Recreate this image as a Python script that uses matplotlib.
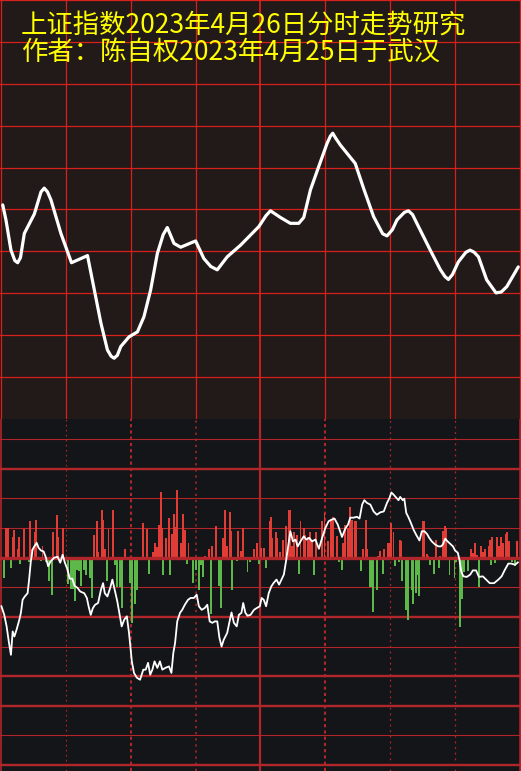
import matplotlib
matplotlib.use('Agg')
import matplotlib.pyplot as plt

# ---- data ----
title_lines = ['上证指数2023年4月26日分时走势研究', '作者：陈自权2023年4月25日于武汉']

# top panel: smoothed trend (minute, level)
trend_minutes = [0.8, 2.3, 4.6, 6.4, 7.7, 9.0, 10.8, 15.4, 18.5, 20.0, 21.5, 23.1, 27.7, 32.6,
                 40.0, 46.2, 49.2, 50.9, 52.3, 53.8, 55.4, 59.2, 63.1, 66.1, 69.2, 72.3, 75.0,
                 76.9, 80.0, 83.1, 90.0, 93.8, 97.0, 100.0, 104.6, 110.8, 119.2, 122.5, 124.6,
                 129.2, 133.8, 137.7, 140.0, 143.1, 146.9, 150.8, 152.3, 153.4, 154.8, 156.9,
                 163.8, 167.7, 172.3, 176.5, 178.5, 181.0, 183.1, 186.5, 188.4, 190.3, 192.3,
                 198.5, 203.1, 205.3, 206.9, 208.8, 211.5, 215.0, 216.9, 218.8, 220.8, 224.6,
                 228.9, 231.3, 233.9, 239.2]
trend_values = [5.11, 4.75, 4.03, 3.78, 3.73, 3.85, 4.43, 4.89, 5.42, 5.51, 5.42, 5.23, 4.43,
                3.73, 3.90, 2.29, 1.65, 1.50, 1.45, 1.52, 1.73, 1.96, 2.08, 2.44, 3.08, 3.95,
                4.40, 4.57, 4.19, 4.10, 4.25, 3.83, 3.64, 3.56, 3.87, 4.15, 4.59, 4.85, 4.97,
                4.81, 4.67, 4.67, 4.81, 5.47, 6.02, 6.58, 6.75, 6.82, 6.70, 6.54,
                6.10, 5.50, 4.83, 4.42, 4.37, 4.52, 4.75, 4.93, 4.97, 4.88, 4.67,
                4.03, 3.57, 3.40, 3.33, 3.45, 3.75, 3.98, 4.03, 3.98, 3.87, 3.32,
                3.01, 3.03, 3.16, 3.63]

# bottom panel: minute price line
price_minutes = [0.2, 1.5, 2.6, 3.7, 4.6, 5.4, 6.2, 7.2, 8.5, 9.2, 10.0, 11.0, 12.3, 13.0, 13.8,
                 14.6, 15.4, 16.5, 17.4, 18.5, 19.7, 20.8, 21.8, 23.0, 24.6, 26.2, 27.4, 28.5,
                 29.5, 30.8, 31.8, 33.0, 34.0, 35.4, 36.6, 38.5, 39.7, 40.5, 41.5, 42.5, 43.5,
                 44.9, 46.2, 47.2, 48.0, 49.2, 50.5, 51.5, 52.6, 53.8, 55.0, 55.8, 57.0, 58.2,
                 59.2, 60.5, 61.5, 62.8, 64.3, 65.8, 66.9, 68.0, 69.0, 70.0, 71.0, 72.3, 73.5,
                 74.6, 76.0, 77.7, 78.8, 79.7, 80.5, 81.5, 82.8, 83.8, 85.0, 86.5, 87.7, 89.2,
                 90.5, 91.5, 92.8, 94.2, 95.4, 96.5, 97.7, 98.9, 100.0, 101.0, 102.0, 103.0,
                 104.6, 105.7, 106.6, 107.7, 109.0, 110.0, 111.2, 112.0, 113.0, 114.0, 115.4,
                 117.0, 118.5, 119.7, 120.5, 121.5, 122.6, 123.8, 125.0, 126.0, 127.4, 128.6,
                 129.7, 130.8, 131.8, 132.8, 133.8, 135.0, 136.2, 137.2, 138.5, 140.0, 141.2,
                 142.5, 143.8, 145.4, 147.0, 148.5, 150.0, 151.5, 152.8, 154.2, 155.7, 157.7,
                 159.2, 160.5, 161.5, 163.0, 164.6, 165.8, 167.0, 168.0, 169.2, 170.8, 172.3,
                 173.8, 175.4, 177.0, 178.5, 179.7, 180.5, 181.5, 182.8, 183.8, 184.6, 185.8,
                 186.5, 187.4, 188.5, 189.5, 190.8, 192.0, 193.5, 194.6, 195.8, 197.0, 198.0,
                 199.2, 200.8, 202.3, 203.4, 204.3, 205.4, 206.5, 207.7, 209.0, 210.0, 211.2,
                 212.0, 212.8, 213.8, 215.4, 217.0, 218.2, 219.7, 221.0, 222.8, 224.3, 226.0,
                 228.0, 230.0, 231.5, 233.0, 234.6, 236.0, 237.7, 239.0]
price_values = [-1.64, -1.93, -2.32, -2.88, -3.28, -2.49, -2.66, -2.43, -2.09, -1.86, -1.42, -1.31,
                -1.20, -0.74, -0.12, 0.27, 0.38, 0.50, 0.33, 0.24, 0.21, 0.00, -0.29, -0.12, 0.00,
                0.03, -0.17, 0.10, -0.16, -0.41, -0.71, -0.71, -0.95, -1.02, -1.14, -1.20, -1.36,
                -1.64, -1.93, -1.70, -1.59, -1.53, -1.09, -0.86, -1.20, -1.31, -1.02, -0.74, -1.09,
                -1.48, -1.98, -2.32, -2.09, -1.98, -2.54, -3.50, -3.89, -4.05, -4.12, -3.78, -3.78,
                -3.55, -3.95, -3.78, -3.50, -3.72, -3.50, -3.78, -3.72, -3.67, -3.89, -3.21, -2.88,
                -2.15, -1.86, -1.76, -1.59, -1.42, -1.36, -1.36, -1.25, -1.64, -1.76, -1.70, -1.59,
                -2.15, -2.20, -2.15, -2.15, -2.70, -3.00, -2.77, -2.54, -2.15, -1.85, -2.20, -2.32,
                -1.93, -1.86, -1.53, -1.86, -1.96, -1.93, -1.76, -1.69, -1.64, -1.36, -1.42, -1.64,
                -1.20, -0.97, -0.86, -0.74, -0.91, -0.74, -0.57, -0.12, 0.38, 0.89, 0.55, 0.61,
                0.38, 0.55, 0.72, 0.61, 0.67, 0.55, 0.61, 0.30, 0.67, 1.00, 1.23, 1.28, 1.32, 1.12,
                0.70, 0.98, 1.12, 1.35, 1.35, 1.38, 1.32, 1.79, 1.94, 1.85, 1.79, 1.56, 1.45, 1.53,
                1.56, 1.85, 2.02, 2.20, 2.13, 2.02, 1.94, 2.05, 1.94, 1.99, 1.51, 1.35, 1.18, 0.94,
                0.77, 0.58, 0.89, 0.89, 0.80, 0.67, 0.55, 0.44, 0.38, 0.38, 0.44, 0.64, 0.55, 0.47,
                0.38, 0.24, 0.17, -0.07, -0.46, -0.63, -0.65, -0.57, -0.43, -0.43, -0.65, -0.63,
                -0.74, -0.86, -0.86, -0.74, -0.63, -0.41, -0.20, -0.20, -0.24, -0.16]

# bottom panel: up / down volume bars (minute, value)
up_minutes = [2.5, 3.1, 5.5, 6.2, 7.7, 8.3, 10.5, 13.4, 14.2, 15.6, 16.2, 19.2, 24.0, 25.8, 26.5,
              28.5, 42.8, 44.2, 45.0, 46.5, 47.2, 48.0, 49.7, 51.6, 57.2,
              65.5, 67.3, 70.5, 71.0, 72.3, 72.9, 73.8, 74.6, 76.1, 77.5, 79.2, 80.1, 80.8, 81.5,
              83.3, 84.0, 85.3, 86.7, 94.2, 96.0, 97.7, 99.6, 102.8, 103.8, 104.6, 106.0, 106.5,
              109.6, 111.0, 111.7, 117.0, 118.5,
              120.4, 121.8, 124.2, 124.8, 125.5, 127.0, 127.8, 129.2, 130.3, 131.8, 133.0, 133.8,
              134.5, 135.5, 137.0, 138.5, 140.0, 140.6, 142.0, 143.0, 144.0, 145.7, 148.5, 149.6,
              151.0, 152.8, 153.6, 155.5, 158.0, 159.2, 160.5, 161.5, 162.3, 163.5, 164.2, 167.3,
              168.7, 169.3, 174.5, 175.2, 177.2, 178.8, 179.5,
              180.2, 181.5, 184.6, 185.1, 195.0, 195.8, 197.0, 197.6, 201.0, 203.0, 204.6, 205.3,
              206.0, 217.5, 218.3, 219.0, 220.3, 222.0, 222.8, 224.0, 225.6, 226.2, 226.9, 229.2,
              230.5, 231.2, 232.3, 233.5, 234.2, 235.0, 238.6]
up_values = [1.0, 1.0, 0.7, 0.93, 0.3, 0.7, 0.97, 1.25, 0.3, 0.88, 1.27, 0.4, 0.88, 1.44, 0.7,
             1.0, 0.77, 1.25, 0.2, 1.6, 1.27, 0.3, 0.98, 1.6, 0.3,
             1.18, 0.97, 0.2, 0.5, 0.35, 1.1, 2.2, 1.0, 0.65, 1.33, 0.8, 1.47, 1.05, 2.3,
             0.48, 1.47, 0.95, 0.48, 0.05, 0.3, 0.4, 1.07, 0.65, 1.6, 0.4, 1.55, 0.9,
             0.9, 0.22, 1.0, 0.3, 0.5,
             0.33, 0.33, 1.24, 1.37, 0.65, 0.88, 0.65, 0.2, 0.6, 1.08, 1.6, 1.6,
             0.4, 0.88, 0.77, 1.24, 1.0, 0.77, 0.7, 0.85, 0.6, 0.85, 1.25, 1.5,
             0.55, 1.27, 1.36, 0.73, 0.48, 1.1, 1.0, 1.72, 1.27, 1.24, 1.24, 0.28,
             1.27, 0.28, 0.05, 0.22, 0.3, 0.5, 0.5,
             1.16, 0.88, 0.6, 0.56, 1.24, 1.24, 0.12, 0.05, 0.6, 0.05, 0.9, 1.07,
             1.0, 0.3, 0.15, 0.5, 0.1, 0.4, 0.2, 0.3, 0.4, 0.6, 0.7, 0.7,
             0.4, 0.7, 0.48, 0.8, 0.87, 0.55, 0.55]
down_minutes = [1.2, 4.6, 9.0, 12.8, 18.3, 20.8, 22.0, 23.5, 27.2, 31.2, 32.3, 33.5, 34.3, 35.0,
                36.2, 37.0, 38.5, 39.4, 41.2, 42.0, 49.0, 52.7, 53.8, 55.0, 55.8, 59.5,
                60.4, 61.9, 63.0, 68.5, 75.0, 78.3, 85.8, 89.0, 90.3, 91.5, 92.5, 93.2, 96.9,
                101.0, 101.9, 107.0, 109.0, 114.0, 115.0, 119.5,
                122.6, 137.6, 144.7, 156.3, 157.7, 166.5, 170.7, 171.4, 172.0, 173.8, 176.5,
                182.1, 184.0, 185.3, 187.2, 188.0, 190.0, 190.6, 191.8, 192.5, 193.2, 198.3,
                200.1, 202.6, 207.4, 209.7, 210.3, 212.4, 213.1, 214.3, 215.8, 220.9, 226.6,
                228.5, 236.5, 237.5]
down_values = [-0.7, -0.35, -0.2, -0.15, -0.1, -0.15, -0.78, -1.25, -0.15, -0.9, -1.05, -1.05,
               -1.45, -0.4, -0.45, -0.95, -0.4, -0.6, -0.7, -1.35, -0.8, -0.25, -1.0, -1.0, -1.7,
               -0.85,
               -2.2, -1.55, -1.1, -0.55, -0.6, -0.6, -0.2, -0.85, -0.4, -1.1, -0.25, -0.65, -1.9,
               -0.97, -1.7, -1.1, -0.1, -0.5, -0.15, -0.2,
               -0.35, -0.55, -0.6, -0.15, -0.4, -0.45, -1.0, -1.0, -1.85, -1.1, -0.55,
               -0.27, -0.15, -0.8, -1.77, -2.1, -1.1, -1.55, -1.2, -0.6, -1.3, -0.25,
               -0.55, -0.35, -0.6, -0.7, -0.15, -2.33, -1.4, -0.47, -0.45, -1.0, -0.25,
               -0.17, -0.13, -0.28]

# ---- figure ----
fig = plt.figure(figsize=(5.21, 7.71), dpi=100)
fig.patch.set_facecolor('#141518')

ax_top = fig.add_axes([0, 352 / 771, 1, 419 / 771])
ax_bot = fig.add_axes([0, 0, 1, 352 / 771])

for ax in (ax_top, ax_bot):
    ax.set_xlim(-0.46, 240.46)
    ax.set_xticks([])
    ax.set_yticks([])
    for s in ax.spines.values():
        s.set_visible(False)

# top panel
ax_top.set_facecolor('#211a18')
ax_top.set_ylim(0, 10)
top_red = '#d8201c'
for lvl in range(1, 11):
    ax_top.axhline(lvl, color=top_red, lw=0.9, zorder=1, clip_on=False)
for m in range(0, 241, 30):
    ax_top.axvline(m, color=top_red, lw=1.3 if m == 120 else 0.9, zorder=1, clip_on=False)
ax_top.plot(trend_minutes, trend_values, color='white', lw=2.3, zorder=3,
            solid_joinstyle='round', solid_capstyle='round')

# bottom panel
ax_bot.set_facecolor('#141518')
ax_bot.set_ylim(-7.2, 4.68)
bot_red = '#b0262a'
thick_levels = [3, -2, -4, -5, -7]
for lvl in range(-7, 5):
    if lvl == 0:
        continue
    ax_bot.axhline(lvl, color=bot_red, lw=1.7 if lvl in thick_levels else 0.8, zorder=1)

dotted = {30: (0.8, (1.5, 3)), 60: (1.5, (1.5, 1.5)), 90: (1.1, (1.5, 2.5)),
          150: (1.5, (1.5, 1.5)), 180: (0.9, (1.5, 3)), 210: (0.9, (1.5, 3))}
for m, (w, pat) in dotted.items():
    ax_bot.axvline(m, color=bot_red, lw=w, linestyle=(0, pat), zorder=1)
ax_bot.axvline(120, color=bot_red, lw=1.6, zorder=1)
ax_bot.axvline(0, color=bot_red, lw=1.2, zorder=1)
ax_bot.axvline(240, color=bot_red, lw=1.8, zorder=1)

ax_bot.bar(up_minutes, up_values, width=0.9, color='#e23c36', zorder=2, linewidth=0)
ax_bot.bar(down_minutes, down_values, width=0.9, color='#5cb848', zorder=2, linewidth=0)
ax_bot.axhline(0, color=bot_red, lw=2.4, zorder=2.5)
ax_bot.plot(price_minutes, price_values, color='white', lw=1.3, zorder=3)

# title text
for i, line in enumerate(title_lines):
    fig.text(21 / 521, 1 - (25 + 27 * i) / 771, line, color='#ffff00', fontsize=19,
             va='center', ha='left', family=['Noto Sans CJK SC', 'DejaVu Sans'])

fig.savefig('out.png', dpi=100, facecolor=fig.get_facecolor())
